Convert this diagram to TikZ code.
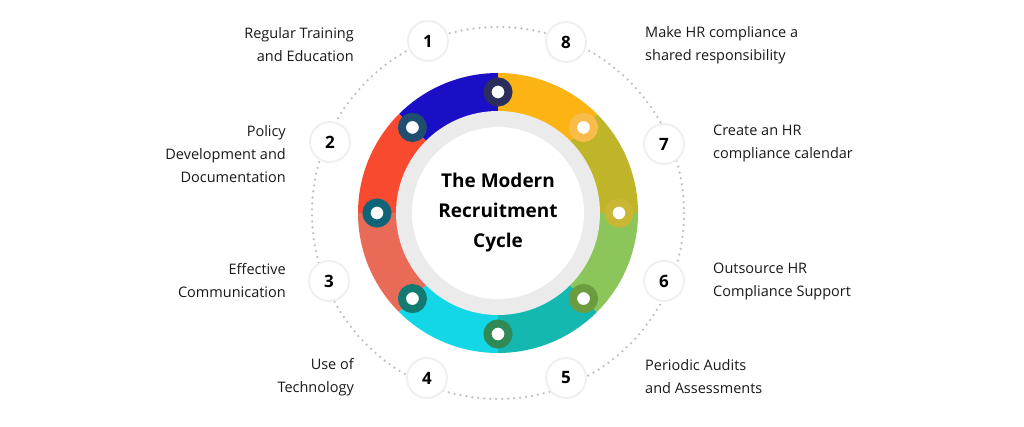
\documentclass[tikz,border=0pt]{standalone}
\usepackage{fontspec}
\setmainfont{Open Sans}
\definecolor{s1}{HTML}{1A0FC7}\definecolor{s2}{HTML}{F84A2E}\definecolor{s3}{HTML}{EA6A58}\definecolor{s4}{HTML}{13D6E6}
\definecolor{s5}{HTML}{14B8B0}\definecolor{s6}{HTML}{8CC65A}\definecolor{s7}{HTML}{C0B429}\definecolor{s8}{HTML}{FBB414}
\definecolor{k1}{HTML}{2B2D5C}\definecolor{k2}{HTML}{1F4E70}\definecolor{k3}{HTML}{0F6478}\definecolor{k4}{HTML}{137A72}
\definecolor{k5}{HTML}{2F8A55}\definecolor{k6}{HTML}{6B9C3F}\definecolor{k7}{HTML}{C9B733}\definecolor{k8}{HTML}{F9BB4A}
\begin{document}
\begin{tikzpicture}[x=1pt,y=-1pt,
  num/.style={circle,fill=white,minimum size=40pt,inner sep=0pt,font=\fontsize{17}{17}\selectfont\bfseries,
    draw=black!6,line width=2pt},
  lbl/.style={font=\fontsize{14.5}{23}\selectfont,text=black!90,inner sep=0pt},
  mk/.style={circle,fill=white,minimum size=21pt,inner sep=0pt,line width=8pt}]
\useasboundingbox (0,0) rectangle (1024,427);
\fill[white] (0,0) rectangle (1024,427);
\coordinate (c) at (498,213);
\draw[black!25,line width=2.5pt,dash pattern=on 0pt off 6pt,line cap=round] (c) circle[radius=186];
\def\seg#1#2#3{\fill[#3] ([shift={(-#1:140)}]c) arc[start angle=-#1,end angle=-#2,radius=140] -- ([shift={(-#2:98)}]c) arc[start angle=-#2,end angle=-#1,radius=98] -- cycle;}
\seg{90}{135}{s1}
\seg{135}{180}{s2}
\seg{180}{225}{s3}
\seg{225}{270}{s4}
\seg{270}{315}{s5}
\seg{315}{360}{s6}
\seg{0}{45}{s7}
\seg{45}{90}{s8}
\fill[black!8] (c) circle[radius=102];
\fill[white] (c) circle[radius=86];
\node[font=\fontsize{19}{30}\selectfont\bfseries,align=center] (t) at (c) {The Modern\\Recruitment\\Cycle};
\foreach \a/\col [count=\i] in {90/k1,135/k2,180/k3,225/k4,270/k5,315/k6,0/k7,45/k8}
  \node[mk,draw=\col] (m\i) at ([shift={(-\a:121)}]c) {};
\node[num] (n1) at (428,41) {1};
\node[num] (n8) at (566,42) {8};
\node[num] (n2) at (330,142) {2};
\node[num] (n7) at (664,144) {7};
\node[num] (n3) at (329,281) {3};
\node[num] (n6) at (664,281) {6};
\node[num] (n4) at (427,378) {4};
\node[num] (n5) at (566,378) {5};
\node[lbl,align=right,anchor=east] (l1) at (354,45) {Regular Training\\and Education};
\node[lbl,align=right,anchor=east] (l2) at (286,154) {Policy\\Development and\\Documentation};
\node[lbl,align=right,anchor=east] (l3) at (286,281) {Effective\\Communication};
\node[lbl,align=right,anchor=east] (l4) at (354,377) {Use of\\Technology};
\node[lbl,align=left,anchor=west] (l8) at (645,45) {Make HR compliance a\\shared responsibility};
\node[lbl,align=left,anchor=west] (l7) at (713,143) {Create an HR\\compliance calendar};
\node[lbl,align=left,anchor=west] (l6) at (713,281) {Outsource HR\\Compliance Support};
\node[lbl,align=left,anchor=west] (l5) at (645,377) {Periodic Audits\\and Assessments};
\end{tikzpicture}
\end{document}
